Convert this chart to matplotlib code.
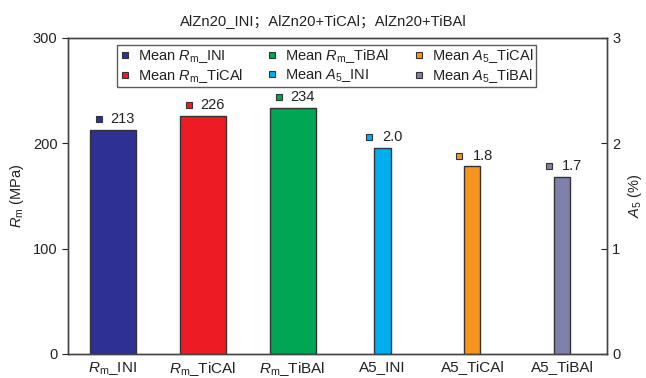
import numpy as np
import matplotlib
matplotlib.use("Agg")
import matplotlib.pyplot as plt

plt.rcParams['font.family'] = ['Liberation Sans', 'DejaVu Sans']
plt.rcParams['mathtext.fontset'] = 'custom'
plt.rcParams['mathtext.rm'] = 'Liberation Sans'
plt.rcParams['mathtext.it'] = 'Liberation Sans:italic'

# datos
categories = [r'$R_{\rm m}$_INI', r'$R_{\rm m}$_TiCAl', r'$R_{\rm m}$_TiBAl',
              'A5_INI', 'A5_TiCAl', 'A5_TiBAl']
rm_values = [213, 226, 234]
a5_values = [1.96, 1.78, 1.68]
rm_labels = ['213', '226', '234']
a5_labels = ['2.0', '1.8', '1.7']
rm_legend = [r'Mean $R_{\rm m}$_INI', r'Mean $R_{\rm m}$_TiCAl', r'Mean $R_{\rm m}$_TiBAl']
a5_legend = [r'Mean $A_{5}$_INI', r'Mean $A_{5}$_TiCAl', r'Mean $A_{5}$_TiBAl']
rm_colors = ['#2E3192', '#ED1C24', '#00A651']
a5_colors = ['#00AEEF', '#F7941D', '#8080AC']

txt = '#222222'
edge = '#333333'

fig = plt.figure(figsize=(6.46, 3.78), dpi=100)
ax = fig.add_axes([0.105, 0.0635, 0.835, 0.836])
ax2 = ax.twinx()

x_rm = np.arange(3)
x_a5 = np.arange(3, 6)

ax.bar(x_rm, rm_values, width=0.51, color=rm_colors, edgecolor=edge, linewidth=1)
ax2.bar(x_a5, a5_values, width=0.18, color=a5_colors, edgecolor=edge, linewidth=1)

# marcador de la media + etiqueta de valor
handles = []
for i in range(3):
    h, = ax.plot(x_rm[i] - 0.155, rm_values[i] + 10, 's', ms=4.5, color=rm_colors[i],
                 mec=edge, mew=0.8, label=rm_legend[i])
    ax.text(x_rm[i] - 0.03, rm_values[i] + 10, rm_labels[i], va='center', ha='left',
            fontsize=10.5, color=txt)
    handles.append(h)
for i in range(3):
    h, = ax2.plot(x_a5[i] - 0.15, a5_values[i] + 0.1, 's', ms=4.5, color=a5_colors[i],
                  mec=edge, mew=0.8, label=a5_legend[i])
    ax2.text(x_a5[i] + 0.0, a5_values[i] + 0.1, a5_labels[i], va='center', ha='left',
             fontsize=10.5, color=txt)
    handles.append(h)

ax.set_xlim(-0.5, 5.5)
ax.set_ylim(0, 300)
ax2.set_ylim(0, 3)
ax.set_yticks([0, 100, 200, 300])
ax2.set_yticks([0, 1, 2, 3])
ax.set_xticks(np.arange(6))
ax.set_xticklabels(categories)

ax.tick_params(axis='x', length=0, pad=4.5, labelsize=11, colors=txt)
ax.tick_params(axis='y', direction='out', length=4, labelsize=10.5, colors=txt)
ax2.tick_params(axis='y', direction='in', length=4, labelsize=10.5, colors=txt)

ax.set_ylabel(r'$R_{\rm m}$ (MPa)', fontsize=10.5, color=txt, labelpad=5)
ax2.set_ylabel(r'$A_5$ (%)', fontsize=10.5, color=txt, rotation=90, labelpad=4)

for a in (ax, ax2):
    for s in a.spines.values():
        s.set_color('#444444')
        s.set_linewidth(1)

leg = ax.legend(handles=handles, ncol=3, loc='upper left', bbox_to_anchor=(0.091, 0.978),
                frameon=True, fancybox=False, fontsize=10.5, handlelength=0.8,
                handletextpad=0.5, columnspacing=1.6, borderaxespad=0, labelspacing=0.12,
                borderpad=0.15)
leg.get_frame().set_edgecolor('#333333')
leg.get_frame().set_linewidth(1)
for t in leg.get_texts():
    t.set_color(txt)

fig.text(0.5, 0.944, 'AlZn20_INI；AlZn20+TiCAl；AlZn20+TiBAl', ha='center', va='center',
         fontsize=10.6, color=txt, family=['Liberation Sans', 'Noto Sans CJK SC'])

fig.savefig('out.png', dpi=100)
